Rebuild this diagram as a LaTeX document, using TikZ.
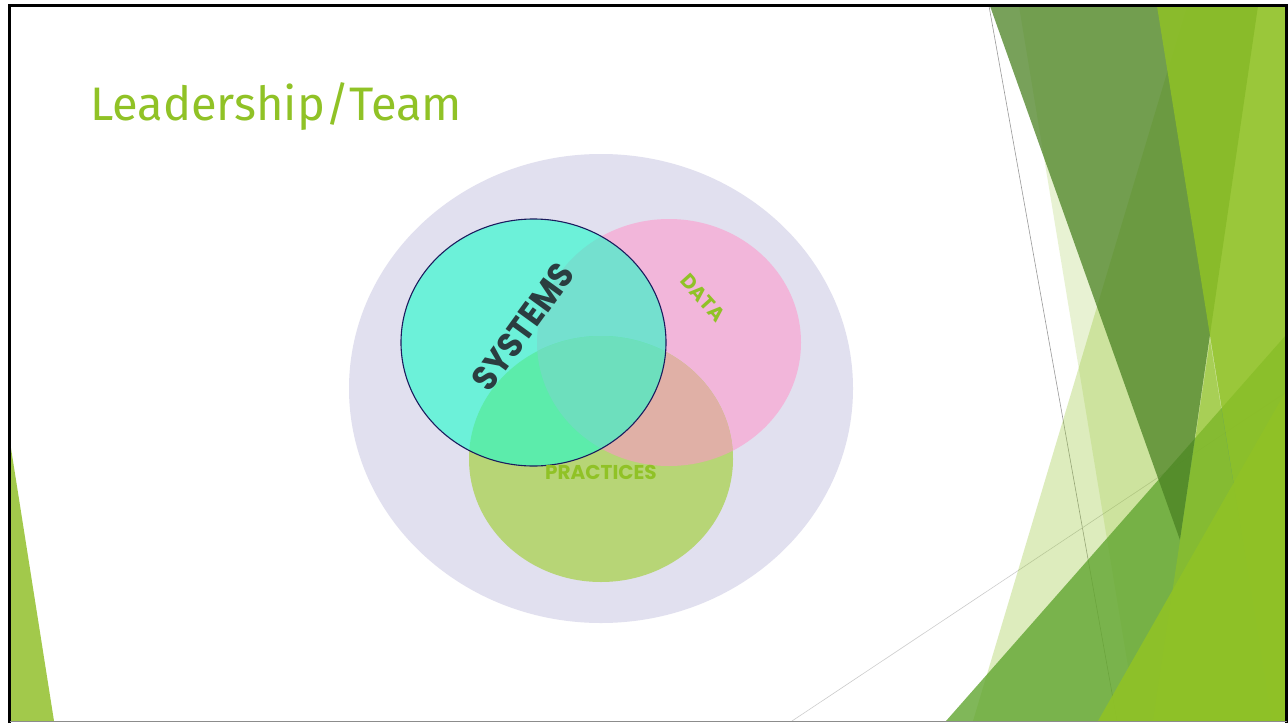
\documentclass[tikz,border=0pt]{standalone}
\usepackage{fontspec}
\setmainfont{Fira Sans}
\newfontfamily\geo{Poppins}
\definecolor{titleg}{HTML}{90C226}
\definecolor{lav}{HTML}{E1E0EF}
\definecolor{datac}{HTML}{F2B6DA}
\definecolor{pracc}{HTML}{B7D576}
\definecolor{dpc}{HTML}{E0B0A6}
\definecolor{sysc}{HTML}{6CF1D9}
\definecolor{sdc}{HTML}{74E0CF}
\definecolor{spc}{HTML}{5CECAB}
\definecolor{sdpc}{HTML}{6DDFBD}
\definecolor{sysline}{HTML}{1B1B5E}
\definecolor{systext}{HTML}{2B3D40}
\definecolor{leftg}{HTML}{A2C94B}
\definecolor{ga}{RGB}{144,194,38}
\definecolor{gg}{RGB}{97,165,48}
\definecolor{gt}{RGB}{75,130,35}
\tikzset{
  venntext/.style={font=\geo\bfseries\fontsize{#1}{#1}\selectfont, inner sep=0pt},
  thinline/.style={line width=0.6pt},
}
\begin{document}
\begin{tikzpicture}[x=1pt,y=-1pt]
\useasboundingbox (0,0) rectangle (1288,723);
\fill[white] (0,0) rectangle (1288,723);
\begin{scope}
\clip (10,6) rectangle (1286,721);
% left decoration
\fill[leftg] (10,442) -- (10,721) -- (54,721) -- cycle;
% thin lines
\draw[thinline, draw=black!40] (989,6) -- (1117,721);
\draw[thinline, draw=black!20] (792,721) -- (1285,393);
% right decoration
\fill[ga, opacity=0.3] (973,721) -- (1187,6) -- (1286,6) -- (1286,721) -- cycle;
\fill[ga, opacity=0.2] (1019,6) -- (1286,6) -- (1286,721) -- (1137,721) -- cycle;
\fill[gg, opacity=0.8] (946,721) -- (1286,335) -- (1286,721) -- cycle;
\fill[gt, opacity=0.75] (990,6) -- (1258,6) -- (1180,540) -- cycle;
\fill[ga, opacity=0.6] (1210,340) -- (1272,721) -- (1153,721) -- cycle;
\fill[ga, opacity=0.83] (1157,6) -- (1286,6) -- (1286,721) -- (1272,721) -- cycle;
\fill[ga, opacity=0.9] (1286,391) -- (1286,721) -- (1098,721) -- cycle;
\end{scope}
% border
\draw[black, line width=2.5pt] (9.5,723) -- (9.5,5.5) -- (1286.5,5.5) -- (1286.5,723);
\draw[black!45, line width=1.2pt] (9.5,721.5) -- (1286.5,721.5);
% title
\node[anchor=base west, inner sep=0pt, font=\fontsize{47}{50}\selectfont, text=titleg] (title) at (90,120) {Leadership/Team};
% venn
\fill[lav] (601,388.5) ellipse [x radius=252, y radius=234.5];
\fill[datac] (669,342.5) ellipse [x radius=132, y radius=123.5];
\fill[pracc] (601,459) ellipse [x radius=132, y radius=123];
\begin{scope}
\clip (601,459) ellipse [x radius=132, y radius=123];
\fill[dpc] (669,342.5) ellipse [x radius=132, y radius=123.5];
\end{scope}
\fill[sysc] (533.5,342.5) ellipse [x radius=132.5, y radius=123.5];
\begin{scope}
\clip (533.5,342.5) ellipse [x radius=132.5, y radius=123.5];
\fill[sdc] (669,342.5) ellipse [x radius=132, y radius=123.5];
\fill[spc] (601,459) ellipse [x radius=132, y radius=123];
\clip (669,342.5) ellipse [x radius=132, y radius=123.5];
\fill[sdpc] (601,459) ellipse [x radius=132, y radius=123];
\end{scope}
\draw[sysline, line width=1.1pt] (533.5,342.5) ellipse [x radius=132.5, y radius=123.5];
\node[venntext=35, text=systext, rotate=54, xscale=0.92] (sys) at (523,327) {SYSTEMS};
\node[venntext=20, text=titleg, rotate=-48] (data) at (703,298) {DATA};
\node[venntext=20, text=titleg] (prac) at (601,472) {PRACTICES};
\end{tikzpicture}
\end{document}
